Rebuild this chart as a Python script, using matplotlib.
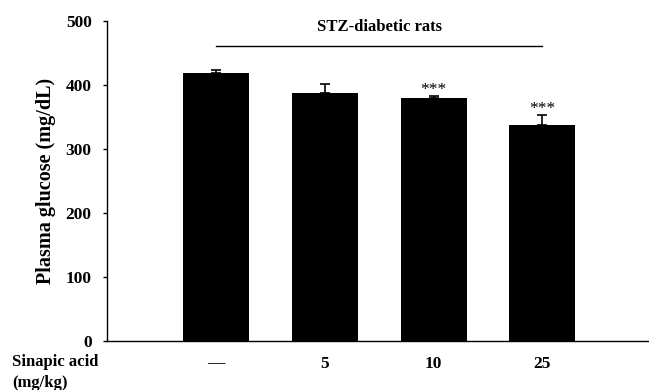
import matplotlib
matplotlib.use("Agg")
import matplotlib.pyplot as plt
import numpy as np

categories = ["\u2014", "5", "10", "25"]
glucose = [419, 387, 380, 338]
errors = [4, 14, 3, 15]
stars = ["", "", "***", "***"]
yticks = [0, 100, 200, 300, 400, 500]

plt.rcParams['font.family'] = ['Liberation Serif', 'DejaVu Serif']
plt.rcParams['font.weight'] = 'bold'

W, H = 649, 390
fig = plt.figure(figsize=(W/100, H/100), dpi=100)
ax = fig.add_axes([107/W, 49/H, (648-107)/W, 320/H])
x = np.arange(len(categories))
ax.bar(x, glucose, width=0.606, color='black')
ax.errorbar(x, glucose, yerr=[np.zeros(len(errors)), errors], fmt='none',
            ecolor='black', elinewidth=1.2, capsize=3.5, capthick=1.2)
for xi, g, e, s in zip(x, glucose, errors, stars):
    if s:
        ax.text(xi, g + e + 3, s, ha='center', va='baseline', fontsize=12.5,
                fontweight='normal')

ax.set_xlim(-1, 3.97)
ax.set_ylim(0, 500)
ax.set_yticks(yticks)
ax.set_yticklabels([str(t) for t in yticks], fontsize=12.5, fontweight='bold')
ax.set_xticks(x)
ax.set_xticklabels(categories, fontsize=12.5, fontweight='bold')
ax.tick_params(axis='x', length=0, pad=10.5)
ax.tick_params(axis='y', length=3, width=1, direction='out', pad=8)
for sp in ['top', 'right']:
    ax.spines[sp].set_visible(False)
for sp in ['left', 'bottom']:
    ax.spines[sp].set_linewidth(1)

fig.text(46/W, 1 - 181/H, "Plasma glucose (mg/dL)", rotation=90, ha='center', va='center',
         fontsize=14.5, fontweight='bold')

ax.plot([x[0], x[-1]], [461, 461], color='black', lw=1, clip_on=False)
ax.text((x[0] + x[-1]) / 2, 491, "STZ-diabetic rats", ha='center', va='center',
        fontsize=12, fontweight='bold')

fig.text(12/W, 1 - 362/H, "Sinapic acid", ha='left', va='center', fontsize=12, fontweight='bold')
fig.text(12/W, 1 - 383/H, "(mg/kg)", ha='left', va='center', fontsize=12, fontweight='bold')

fig.savefig("out.png", dpi=100)
